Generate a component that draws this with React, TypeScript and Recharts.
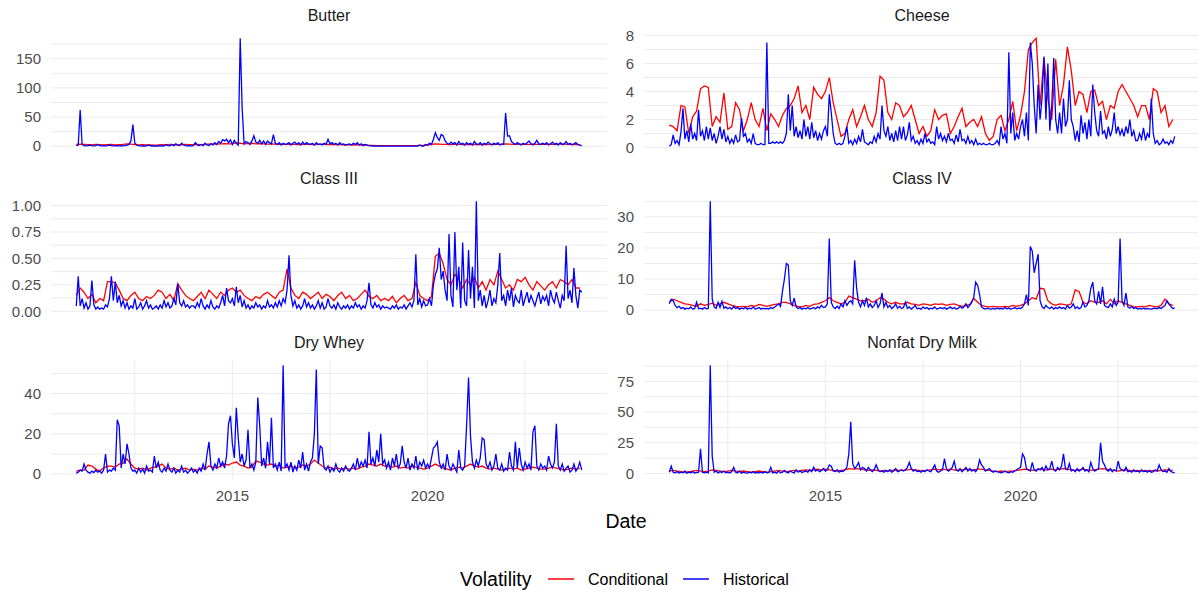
import React from 'react';
import { LineChart, Line, XAxis, YAxis, CartesianGrid } from 'recharts';

// ---------- categories / axis ----------
const START_YEAR = 2011;
const HIST_STEP = 0.05; // years between historical observations
const COND_STEP = 0.1; // years between conditional observations
const xTicks = [2012.5, 2015, 2017.5, 2020, 2022.5];
const xLabelTicks = [2015, 2020];
const seriesNames = ['Conditional', 'Historical'];

// ---------- Butter ----------
const butterHist = [
  1,2,62,3,1,0.5,1,2,1,0.5,1,3,1,0.5,1,0.5,1,2,1,0.5,
  0.5,1,0.5,1,0.5,1,2,3,9,37,5,2,1,0.5,0.3,0.3,0.5,2,0.5,0.3,
  0.3,0.5,0.3,1,0.3,0.5,3,1,0.5,3,1,4,2,1,5,2,1,0.5,1,0.5,
  1,6,2,1,3,1,5,2,1,4,2,6,3,8,5,11,9,12,6,11,
  3,10,5,2,185,65,4,8,6,3,9,18,7,5,10,4,9,3,9,6,
  4,20,5,3,6,2,5,3,4,6,2,5,7,3,6,2,7,3,6,4,
  3,5,2,6,3,4,2,5,3,12,4,6,3,5,2,6,3,4,2,3,
  4,2,5,3,6,2,4,1,3,2,1,0.5,0.3,0.2,0.2,0.2,0.1,0.1,0.1,0.1,
  0.1,0.1,0.1,0.1,0.1,0.1,0.1,0.1,0.1,0.1,0.1,0.1,0.1,0.1,0.1,0.1,2,0.2,0.1,3,
  2,5,3,12,23,15,10,20,18,9,5,3,7,4,6,2,8,3,5,2,
  6,3,5,2,8,4,3,6,2,5,3,7,4,2,5,3,6,2,4,3,
  57,17,18,8,5,3,6,4,2,5,3,6,9,4,2,5,10,4,3,5,
  3,6,2,4,7,3,5,2,6,3,4,8,3,5,2,4,6,3,2,1,
];
const butterCond = [
  3,3.5,3,2.5,2,3,2.5,2,2.5,3,
  2,2.5,3,4,3.5,2.5,2,2.5,2,2,
  1.8,2,2.5,2,3,2.5,2,2.5,3,2.5,
  2.5,3,2.5,3,3.5,4,3.5,4,4.5,4,
  4,6,5,4,4.5,5,4,4.5,4,3.5,
  4,3.5,3,3.5,3,3.5,3,2.5,3,3,
  3,2.5,3,3.5,3,2.5,3,2.5,2.5,2,
  2.5,2,2.5,2,2,1.5,1.2,1,1,1,
  1,1,1,1,1,1,1,1,1.2,1.5,
  2,3,4,3.5,3,3,2.5,3,3,2.5,
  3,2.5,3,2.5,3,2.5,3,3.5,3,3,
  4,3.5,3,3,3.5,3,3,3.5,3,3,
  3,3.5,3,3,4,3.5,3,3,2.5,2.5,
];

// ---------- Cheese ----------
const cheeseHist = [
  0.1,0.2,0.9,0.3,0.5,0.2,1.1,2.8,0.6,1.2,0.4,1.7,0.6,1.0,0.5,2.7,0.8,1.2,0.5,1.5,
  0.6,1.4,0.5,1.0,0.3,0.8,1.5,0.6,1.3,0.4,0.8,0.3,0.6,0.3,0.9,0.4,0.5,2.1,0.8,1.0,
  0.4,0.6,0.3,1.0,0.3,0.2,0.2,0.3,0.2,0.2,7.5,0.3,0.3,0.4,0.3,0.4,0.3,0.4,0.3,0.5,
  1.0,3.8,1.2,3.0,0.8,1.5,0.7,1.2,0.6,2.0,0.8,1.5,0.6,1.8,0.7,1.2,0.5,1.0,0.6,1.2,
  1.5,0.8,3.8,2.5,1.0,0.3,0.2,0.3,0.2,0.3,0.8,1.5,0.3,0.5,0.2,0.6,0.3,0.8,0.4,1.3,
  0.4,0.3,0.2,0.4,0.3,0.8,0.4,1.0,0.6,3.0,1.2,0.8,1.5,0.5,1.0,0.4,1.2,0.5,1.5,0.6,
  1.5,0.5,0.9,1.8,0.5,0.8,0.3,0.5,0.2,0.6,0.3,1.0,0.4,0.6,0.3,0.4,0.2,1.5,0.6,1.0,
  0.5,0.8,0.4,1.0,0.5,0.6,0.3,0.9,0.4,1.3,0.5,0.6,0.3,0.8,0.3,0.5,0.2,0.6,0.2,0.3,
  0.2,0.3,0.2,0.2,0.3,0.2,0.2,0.3,0.5,0.2,1.5,0.6,1.0,0.3,6.8,1.0,2.5,0.5,1.0,0.6,
  1.5,2.0,0.8,2.5,0.5,7.5,6.0,3.0,1.0,4.5,2.0,3.5,6.5,2.0,6.0,1.2,3.0,6.4,2.0,1.0,
  2.5,1.0,3.5,1.5,2.0,4.8,2.0,1.5,0.5,1.2,0.4,2.3,1.0,1.8,0.6,2.0,0.8,4.5,2.5,1.2,
  0.8,2.6,1.0,1.2,0.6,1.5,0.8,1.3,2.5,1.0,1.5,0.9,1.3,0.8,1.5,1.0,2.0,0.8,1.2,0.5,
  0.5,1.0,0.6,1.4,0.5,1.0,0.7,3.5,1.0,0.3,0.5,0.2,0.3,0.6,0.3,0.4,0.2,0.5,0.3,0.8,
];
const cheeseCond = [
  1.6,1.5,1.2,3.0,2.9,1.0,2.2,2.6,4.2,4.4,
  4.3,1.5,2.2,1.8,3.9,1.3,1.5,3.2,2.7,1.2,
  2.0,3.2,2.0,1.5,2.8,1.2,2.4,2.0,1.5,2.3,
  2.8,3.0,3.5,4.4,2.5,3.0,2.0,4.3,3.8,3.5,
  4.0,5.0,3.2,2.0,0.8,1.0,2.0,2.7,1.5,2.2,
  3.0,2.0,1.5,2.5,5.1,4.8,2.5,2.0,3.2,3.0,
  2.2,2.5,3.0,2.0,1.0,1.5,0.8,1.2,2.7,2.0,
  2.3,2.4,1.0,1.5,2.2,2.8,1.5,1.8,2.0,1.5,
  2.2,1.0,0.5,0.8,2.0,2.3,1.2,2.0,3.3,1.2,
  2.3,4.0,7.0,7.5,7.8,3.0,6.4,3.5,2.0,6.3,
  3.0,4.5,7.2,5.5,3.0,4.0,3.8,2.5,4.0,4.1,
  3.0,3.3,2.0,3.0,2.8,4.0,4.5,4.0,3.5,3.0,
  2.2,3.0,3.0,2.0,4.2,4.0,2.5,3.0,1.5,2.0,
];

// ---------- Class III ----------
const class3Hist = [
  0.05,0.33,0.05,0.12,0.03,0.08,0.02,0.05,0.29,0.06,0.02,0.04,0.02,0.03,0.02,0.06,0.04,0.12,0.33,0.1,
  0.28,0.08,0.15,0.05,0.1,0.03,0.08,0.02,0.05,0.03,0.12,0.02,0.04,0.08,0.02,0.05,0.1,0.03,0.06,0.02,
  0.03,0.05,0.02,0.06,0.03,0.1,0.04,0.08,0.03,0.05,0.12,0.06,0.26,0.08,0.05,0.1,0.04,0.06,0.03,0.05,
  0.05,0.03,0.08,0.04,0.12,0.05,0.02,0.06,0.03,0.1,0.04,0.02,0.05,0.03,0.08,0.15,0.05,0.22,0.1,0.08,
  0.12,0.05,0.23,0.08,0.15,0.04,0.1,0.03,0.06,0.02,0.05,0.03,0.08,0.04,0.06,0.02,0.05,0.03,0.1,0.04,
  0.06,0.03,0.08,0.04,0.1,0.05,0.12,0.08,0.2,0.53,0.15,0.05,0.1,0.03,0.06,0.02,0.05,0.12,0.04,0.08,
  0.03,0.06,0.02,0.05,0.1,0.03,0.08,0.02,0.04,0.12,0.05,0.03,0.06,0.02,0.08,0.04,0.02,0.05,0.03,0.06,
  0.02,0.05,0.03,0.08,0.04,0.06,0.02,0.05,0.03,0.1,0.27,0.06,0.03,0.08,0.04,0.06,0.02,0.05,0.03,0.04,
  0.03,0.02,0.05,0.03,0.06,0.02,0.04,0.03,0.06,0.02,0.05,0.08,0.04,0.1,0.54,0.06,0.12,0.04,0.1,0.05,
  0.06,0.12,0.05,0.25,0.35,0.4,0.6,0.3,0.38,0.2,0.1,0.73,0.15,0.04,0.75,0.2,0.42,0.03,0.65,0.1,
  0.05,0.58,0.12,0.42,0.03,1.04,0.1,0.2,0.05,0.15,0.03,0.1,0.2,0.05,0.12,0.08,0.25,0.55,0.1,0.15,
  0.05,0.2,0.1,0.22,0.04,0.15,0.1,0.08,0.2,0.05,0.12,0.18,0.08,0.15,0.1,0.05,0.12,0.18,0.07,0.14,
  0.1,0.15,0.05,0.2,0.12,0.08,0.18,0.1,0.03,0.15,0.1,0.62,0.12,0.2,0.08,0.41,0.15,0.03,0.2,0.18,
];
const class3Cond = [
  0.15,0.22,0.18,0.12,0.16,0.08,0.12,0.1,0.28,0.28,
  0.27,0.2,0.12,0.1,0.15,0.18,0.12,0.1,0.14,0.12,
  0.15,0.2,0.18,0.12,0.16,0.1,0.26,0.2,0.15,0.12,
  0.1,0.14,0.18,0.12,0.2,0.16,0.12,0.18,0.15,0.2,
  0.22,0.18,0.2,0.15,0.12,0.1,0.14,0.12,0.16,0.18,
  0.15,0.12,0.18,0.2,0.4,0.22,0.15,0.12,0.18,0.16,
  0.12,0.15,0.18,0.12,0.16,0.14,0.1,0.15,0.18,0.12,
  0.15,0.1,0.12,0.16,0.2,0.14,0.12,0.15,0.1,0.12,
  0.1,0.14,0.08,0.12,0.15,0.1,0.12,0.27,0.15,0.12,
  0.1,0.14,0.52,0.55,0.45,0.3,0.25,0.35,0.3,0.22,
  0.3,0.25,0.32,0.22,0.28,0.2,0.3,0.25,0.38,0.3,
  0.22,0.25,0.2,0.3,0.28,0.32,0.25,0.2,0.28,0.24,
  0.2,0.25,0.28,0.22,0.3,0.28,0.25,0.3,0.22,0.22,
];

// ---------- Class IV ----------
const class4Hist = [
  2.0,3.5,3.0,1.5,0.8,1.2,0.5,0.8,0.3,0.6,0.4,1.0,0.3,0.5,2.5,0.4,0.6,0.3,0.8,0.4,
  0.5,35,3.5,1.0,0.5,2.5,0.8,2.8,0.6,1.0,0.4,0.8,0.3,1.2,0.5,0.8,0.3,0.6,0.4,0.8,
  0.3,0.6,0.4,1.0,0.3,0.5,0.8,0.3,0.6,0.4,0.5,0.3,0.8,0.5,1.0,1.5,2.0,1.2,6.0,10.0,
  15.0,14.5,3.0,1.5,3.8,1.0,0.5,0.8,0.3,0.6,0.4,0.8,0.3,0.5,0.8,0.4,1.0,0.6,1.5,0.8,
  1.0,2.0,23,2.5,1.0,0.5,1.2,0.5,2.0,1.0,3.0,1.5,2.5,3.0,2.0,16,7.0,2.5,1.0,3.0,
  1.5,4.0,1.0,2.0,0.8,1.5,3.0,0.8,2.0,5.5,1.0,2.5,0.8,1.5,0.5,1.0,2.0,0.6,1.2,0.5,
  0.8,2.5,0.5,1.0,0.3,0.8,1.5,0.4,0.6,0.3,1.0,0.5,0.8,0.3,0.6,0.4,1.0,0.3,0.5,0.8,
  0.4,0.8,0.3,0.6,1.0,0.4,0.8,0.3,0.5,1.2,0.6,1.0,2.0,0.8,1.5,2.5,4.0,9.0,8.0,5.0,
  1.0,0.5,0.3,0.6,0.4,0.3,0.5,0.3,0.6,0.4,0.5,0.3,0.8,0.4,0.6,0.3,0.5,0.8,0.4,0.6,
  0.5,1.0,2.0,5.0,1.5,20.5,19,12,15,18,3.0,1.0,0.5,1.5,0.8,0.5,1.0,0.3,0.8,0.5,
  1.0,0.5,0.8,0.3,1.5,0.6,1.0,2.0,0.5,1.0,0.4,0.8,2.5,1.0,1.5,3.0,7.0,9.0,3.0,2.0,
  6.0,2.0,7.5,1.5,1.0,0.8,2.0,1.0,3.5,1.5,2.5,23,3.0,1.5,5.5,1.0,0.6,1.2,0.5,0.8,
  0.3,0.5,0.3,0.6,0.3,0.5,0.4,0.3,0.5,0.6,0.4,0.8,0.5,1.0,1.5,3.0,2.0,1.2,0.5,0.6,
];
const class4Cond = [
  2.5,3.5,3.0,2.5,2.0,1.8,1.5,1.2,2.0,1.5,
  1.8,2.2,1.5,2.0,2.5,2.0,1.5,1.2,1.0,1.2,
  1.0,1.5,1.2,1.8,1.5,1.2,1.5,1.8,2.0,2.5,
  2.5,2.0,1.5,1.2,1.0,1.5,1.2,1.8,2.0,2.5,
  3.0,4.0,3.0,2.5,2.0,2.5,4.5,4.0,3.5,3.0,
  3.0,3.5,2.5,3.0,4.0,3.5,2.5,2.0,2.5,2.0,
  2.0,2.5,2.0,1.8,1.5,2.0,1.8,1.5,2.0,1.8,
  2.0,1.5,1.8,2.0,1.5,1.2,1.5,1.8,3.8,2.5,
  1.5,1.2,1.0,1.2,1.0,1.0,1.2,1.0,1.5,1.2,
  1.5,2.0,3.0,4.0,3.5,7.0,6.8,3.0,2.0,1.5,
  2.0,1.8,1.5,2.0,6.5,6.0,2.5,2.0,3.0,2.5,
  2.5,3.0,2.0,3.5,2.0,3.0,2.5,2.0,1.5,1.0,
  1.0,1.2,1.0,1.5,1.2,1.0,1.5,3.5,2.0,1.5,
];

// ---------- Dry Whey ----------
const wheyHist = [
  0.5,1.0,2.0,1.5,5.0,2.0,1.0,0.5,1.5,0.8,2.0,1.0,1.5,0.5,2.0,10,1.0,2.0,1.5,3.0,
  2.0,27,24,3.0,10,5.0,15,10,3.0,1.5,2.0,0.5,3.0,1.0,2.5,0.5,4.0,1.5,2.0,1.0,
  9.0,3.0,6.0,2.0,1.0,3.0,1.5,5.0,2.0,1.0,3.0,0.5,2.0,1.0,4.0,1.0,2.0,0.5,1.5,3.0,
  1.0,2.0,0.5,3.0,1.5,5.0,2.0,10,16,4.0,2.0,5.0,3.0,8.0,4.0,6.0,3.0,9.0,25,29,
  15,8.0,33,18,6.0,10,4.0,7.0,22,3.0,5.0,2.0,6.0,38,24,4.0,8.0,3.0,16,5.0,
  28,3.0,5.0,2.0,6.0,1.5,54,3.0,5.0,2.0,6.0,1.0,4.0,2.0,7.0,3.0,11,2.0,5.0,1.5,
  6.0,8.0,20,52,5.0,14,13,3.0,2.0,4.0,1.0,3.0,1.5,5.0,2.0,1.0,3.0,1.5,4.0,2.0,
  1.5,3.0,5.0,2.0,8.0,3.0,6.0,4.0,7.0,3.0,21,5.0,8.0,4.0,12,6.0,20,5.0,7.0,3.0,
  6.0,2.0,8.0,4.0,10,3.0,5.0,14,6.0,3.0,8.0,2.0,5.0,3.0,9.0,2.0,6.0,4.0,7.0,3.0,
  5.0,3.0,8.0,13,14,16,6.0,3.0,5.0,2.0,10,4.0,2.0,5.0,3.0,1.0,12,3.0,2.0,4.0,
  24,48,19,6.0,3.0,7.0,4.0,8.0,18,17,5.0,3.0,6.0,2.0,4.0,10,3.0,2.0,5.0,1.5,
  3.0,2.0,11,4.0,2.0,16,3.0,13,5.0,2.0,6.0,3.0,5.0,2.0,21,24,4.0,2.0,5.0,3.0,
  4.0,2.0,9.0,5.0,3.0,6.0,25,4.0,2.0,5.0,1.5,3.0,4.0,1.0,2.0,5.0,1.5,3.0,6.0,2.0,
];
const wheyCond = [
  1.5,2.0,2.0,4.5,4.0,2.5,1.5,3.0,4.0,4.0,
  3.5,5.0,5.5,7.5,5.0,3.0,2.5,3.0,2.0,3.0,
  3.5,4.0,5.0,3.0,2.5,3.0,2.0,2.5,3.0,2.0,
  2.5,2.0,3.0,2.5,4.0,3.5,3.0,4.0,5.0,4.5,
  5.5,6.0,4.5,4.0,3.0,3.5,6.5,6.0,5.0,4.5,
  5.0,4.0,4.5,3.0,3.5,4.0,3.0,3.5,4.5,4.0,
  5.0,7.0,5.5,4.0,3.0,3.5,2.5,3.0,2.5,3.0,
  2.5,3.0,2.5,3.5,4.0,5.0,4.5,4.0,5.0,4.0,
  4.0,3.5,4.0,3.0,3.5,3.0,4.0,3.5,3.0,2.5,
  3.0,4.0,5.0,4.0,3.0,2.5,2.0,3.0,3.5,3.0,
  4.0,5.0,4.0,3.5,4.0,3.0,2.5,3.0,2.5,2.0,
  2.5,3.0,2.5,3.0,2.0,2.5,3.0,3.5,3.0,2.5,
  2.5,3.0,3.5,3.0,2.5,2.0,2.5,3.0,2.5,3.0,
];

// ---------- Nonfat Dry Milk ----------
const nfdmHist = [
  1.0,6.0,1.0,0.5,1.5,0.3,1.0,0.5,2.0,0.3,1.0,0.5,1.5,0.3,0.8,1.0,20,1.0,0.5,1.0,
  0.5,88,14,1.0,2.0,0.5,1.5,0.8,2.0,0.5,1.0,0.3,1.5,5.0,1.0,0.5,2.0,0.3,1.0,0.5,
  0.3,1.0,0.5,1.5,0.3,0.8,0.5,1.0,0.3,1.5,0.5,0.8,5.0,0.5,1.0,0.3,2.0,0.5,1.0,2.5,
  1.0,0.5,2.0,1.0,0.5,3.0,1.0,2.0,0.8,1.5,2.0,1.0,3.0,1.5,5.0,2.0,3.0,1.5,2.5,4.0,
  2.0,3.0,7.0,6.0,2.0,1.5,3.0,1.0,2.0,1.5,3.0,5.0,16,42,8.0,4.0,6.0,9.0,3.0,5.0,
  4.0,2.0,5.0,3.0,1.5,3.0,7.0,3.0,1.5,2.0,1.0,2.5,1.5,3.0,1.0,2.0,4.0,1.5,2.0,3.0,
  2.0,3.0,5.0,9.0,4.0,2.0,3.0,1.5,2.0,1.0,2.5,1.5,3.0,2.0,1.5,4.0,7.0,2.0,1.0,2.0,
  3.0,12,4.0,2.0,3.0,5.0,10,3.0,2.0,4.0,1.5,3.0,5.0,2.0,4.0,2.0,3.0,1.5,4.0,11,
  7.0,5.0,2.0,3.0,4.0,2.0,1.0,2.0,1.5,1.0,0.5,1.0,2.0,1.0,0.5,1.5,1.0,2.0,3.0,4.0,
  5.0,16,13,4.0,3.0,2.0,9.0,3.0,2.0,4.0,3.0,5.0,2.0,6.0,3.0,4.0,10,3.0,2.0,5.0,
  3.0,6.0,16,4.0,3.0,8.0,2.0,3.0,1.5,4.0,2.0,3.0,5.0,2.0,3.0,1.5,9.0,4.0,2.0,3.0,
  4.0,25,10,7.0,3.0,2.0,4.0,1.5,3.0,2.0,10,4.0,3.0,2.0,5.0,1.5,2.0,1.0,3.0,1.5,
  2.0,1.0,3.0,1.5,2.0,1.0,2.5,1.0,1.5,3.0,2.0,7.0,3.0,1.5,2.0,1.0,4.0,1.5,1.0,0.5,
];
const nfdmCond = [
  2.0,2.5,2.0,1.5,1.0,1.5,2.0,2.5,2.0,1.5,
  2.0,3.0,2.5,2.0,1.5,2.0,2.5,2.0,1.5,2.0,
  1.5,1.0,1.5,2.0,1.5,1.0,1.5,2.0,2.5,2.0,
  1.5,2.0,2.5,2.0,2.5,3.0,2.5,3.0,3.5,3.0,
  3.5,3.0,2.5,2.0,2.5,3.0,4.0,3.5,4.0,3.5,
  3.0,2.5,3.0,2.5,2.0,2.5,2.0,2.5,3.0,2.5,
  2.5,3.0,3.5,3.0,2.5,2.0,2.5,3.0,3.5,3.0,
  3.5,3.0,3.5,3.0,2.5,3.0,3.5,3.0,3.0,3.5,
  3.5,3.0,2.5,2.0,1.5,2.0,1.5,2.0,2.0,2.5,
  3.0,3.5,3.0,2.5,3.0,3.5,3.0,3.0,3.5,3.0,
  3.5,4.0,3.5,3.0,2.5,3.0,3.5,3.0,2.5,3.0,
  3.5,4.0,3.5,3.0,2.5,2.0,2.5,3.0,2.5,2.0,
  2.5,2.0,2.5,2.0,2.5,2.0,2.5,3.0,2.5,2.5,
];

// ---------- y ticks per panel (majors labelled, minors blank) ----------
const butterTicks = [0, 25, 50, 75, 100, 125, 150, 175];
const butterLabels = ['0', '', '50', '', '100', '', '150', ''];
const cheeseTicks = [0, 1, 2, 3, 4, 5, 6, 7, 8];
const cheeseLabels = ['0', '', '2', '', '4', '', '6', '', '8'];
const class3Ticks = [0, 0.125, 0.25, 0.375, 0.5, 0.625, 0.75, 0.875, 1];
const class3Labels = ['0.00', '', '0.25', '', '0.50', '', '0.75', '', '1.00'];
const class4Ticks = [0, 5, 10, 15, 20, 25, 30, 35];
const class4Labels = ['0', '', '10', '', '20', '', '30', ''];
const wheyTicks = [0, 10, 20, 30, 40, 50];
const wheyLabels = ['0', '', '20', '', '40', ''];
const nfdmTicks = [0, 12.5, 25, 37.5, 50, 62.5, 75, 87.5];
const nfdmLabels = ['0', '', '25', '', '50', '', '75', ''];

// ---------- helpers ----------
const toSeries = (vals: number[], step: number) =>
  vals.map((v, i) => ({ x: START_YEAR + i * step, v }));

const expandDomain = (lo: number, hi: number): [number, number] => {
  const pad = (hi - lo) * 0.05;
  return [lo - pad, hi + pad];
};

const allX = [
  ...butterHist.map((_, i) => START_YEAR + i * HIST_STEP),
  ...butterCond.map((_, i) => START_YEAR + i * COND_STEP),
];
const X_DOMAIN = expandDomain(Math.min(...allX), Math.max(...allX));

const FONT = '"Liberation Sans", Arial, Helvetica, sans-serif';
const RED = '#FF0000';
const BLUE = '#0000FF';
const GRID = '#EBEBEB';

const PLOT_W = 556;
const PLOT_H = 118.5;
const AXIS_W = 60;
const PAD = 12; // room above/below plot for tick labels
const COL_LEFT = [51, 644];
const ROW_TOP = [33, 196.3, 359.6];
const LINE_W = 1.3;

const panels = [
  { title: 'Butter', hist: butterHist, cond: butterCond, ticks: butterTicks, labels: butterLabels },
  { title: 'Cheese', hist: cheeseHist, cond: cheeseCond, ticks: cheeseTicks, labels: cheeseLabels },
  { title: 'Class III', hist: class3Hist, cond: class3Cond, ticks: class3Ticks, labels: class3Labels },
  { title: 'Class IV', hist: class4Hist, cond: class4Cond, ticks: class4Ticks, labels: class4Labels },
  { title: 'Dry Whey', hist: wheyHist, cond: wheyCond, ticks: wheyTicks, labels: wheyLabels },
  { title: 'Nonfat Dry Milk', hist: nfdmHist, cond: nfdmCond, ticks: nfdmTicks, labels: nfdmLabels },
];

function Panel({ p, col, row }: { p: typeof panels[number]; col: number; row: number }) {
  const bottom = row === 2;
  const histData = toSeries(p.hist, HIST_STEP);
  const condData = toSeries(p.cond, COND_STEP);
  const all = [...p.hist, ...p.cond];
  const yDomain = expandDomain(Math.min(...all), Math.max(...all));
  const labelOf = (v: number) => {
    const i = p.ticks.indexOf(v);
    return i >= 0 ? p.labels[i] : '';
  };
  const xAxisH = bottom ? 40 : 0;
  const bottomMargin = bottom ? 0 : PAD;
  return (
    <div style={{ position: 'absolute', left: COL_LEFT[col] - AXIS_W, top: ROW_TOP[row] - PAD }}>
      <LineChart
        width={PLOT_W + AXIS_W}
        height={PLOT_H + PAD + bottomMargin + xAxisH}
        margin={{ top: PAD, right: 0, bottom: bottomMargin, left: 0 }}
      >
        <CartesianGrid stroke={GRID} strokeWidth={1} syncWithTicks />
        <XAxis
          dataKey="x"
          type="number"
          domain={X_DOMAIN}
          allowDataOverflow
          ticks={xTicks}
          interval={0}
          height={xAxisH}
          axisLine={false}
          tickLine={false}
          tickSize={0}
          tickMargin={12}
          tick={bottom ? { fill: '#4D4D4D', fontSize: 15, fontFamily: FONT } : false}
          tickFormatter={(v: number) => (xLabelTicks.includes(v) ? String(v) : '')}
        />
        <YAxis
          type="number"
          domain={yDomain}
          allowDataOverflow
          ticks={p.ticks}
          interval={0}
          width={AXIS_W}
          axisLine={false}
          tickLine={false}
          tickSize={0}
          tickMargin={10}
          tick={{ fill: '#4D4D4D', fontSize: 15, fontFamily: FONT }}
          tickFormatter={labelOf}
        />
        <Line
          data={condData}
          dataKey="v"
          name={seriesNames[0]}
          type="linear"
          stroke={RED}
          strokeWidth={LINE_W}
          dot={false}
          activeDot={false}
          isAnimationActive={false}
        />
        <Line
          data={histData}
          dataKey="v"
          name={seriesNames[1]}
          type="linear"
          stroke={BLUE}
          strokeWidth={LINE_W}
          dot={false}
          activeDot={false}
          isAnimationActive={false}
        />
      </LineChart>
    </div>
  );
}

export default function App() {
  return (
    <div
      style={{
        position: 'absolute',
        left: 0,
        top: 0,
        width: 1198,
        height: 592,
        overflow: 'hidden',
        background: '#FFFFFF',
        fontFamily: FONT,
      }}
    >
      {panels.map((p, i) => (
        <Panel key={p.title} p={p} col={i % 2} row={Math.floor(i / 2)} />
      ))}
      <svg
        width={1198}
        height={592}
        style={{ position: 'absolute', left: 0, top: 0, pointerEvents: 'none' }}
      >
        {panels.map((p, i) => {
          const col = i % 2;
          const row = Math.floor(i / 2);
          return (
            <text
              key={p.title}
              x={COL_LEFT[col] + PLOT_W / 2}
              y={ROW_TOP[row] - 17.5}
              textAnchor="middle"
              dominantBaseline="central"
              fontSize={16}
              fontFamily={FONT}
              fill="#1A1A1A"
            >
              {p.title}
            </text>
          );
        })}
        <text x={626} y={521} textAnchor="middle" dominantBaseline="central" fontSize={19.5} fontFamily={FONT} fill="#000000">
          Date
        </text>
        <text x={460} y={579} dominantBaseline="central" fontSize={19.5} fontFamily={FONT} fill="#000000">
          Volatility
        </text>
        <line x1={548} x2={574} y1={579} y2={579} stroke={RED} strokeWidth={1.5} />
        <text x={588} y={579} dominantBaseline="central" fontSize={16} fontFamily={FONT} fill="#000000">
          {seriesNames[0]}
        </text>
        <line x1={683} x2={709} y1={579} y2={579} stroke={BLUE} strokeWidth={1.5} />
        <text x={723} y={579} dominantBaseline="central" fontSize={16} fontFamily={FONT} fill="#000000">
          {seriesNames[1]}
        </text>
      </svg>
    </div>
  );
}
